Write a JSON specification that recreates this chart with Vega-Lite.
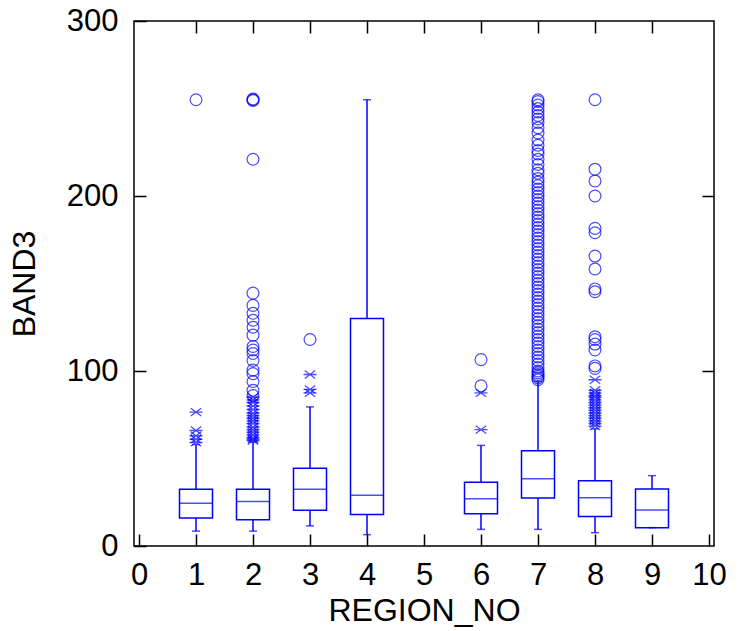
{
  "$schema": "https://vega.github.io/schema/vega-lite/v6.json",
  "width": 580,
  "height": 525,
  "autosize": {"type": "none"},
  "padding": {"left": 134, "top": 21, "right": 25, "bottom": 85},
  "background": "white",
  "config": {
    "view": {"stroke": "black", "strokeWidth": 1.5},
    "font": "Liberation Sans",
    "axis": {
      "domain": false,
      "grid": false,
      "tickColor": "black",
      "tickWidth": 1.5,
      "labelColor": "black",
      "titleColor": "black",
      "labelFont": "Liberation Sans",
      "titleFont": "Liberation Sans",
      "labelFontSize": 31,
      "titleFontSize": 32,
      "titleFontWeight": "normal"
    }
  },
  "datasets": {
    "boxes": [
      {"region": 1, "lo": 8.5, "q1": 16, "med": 24.5, "q3": 32.5, "hi": 58},
      {"region": 2, "lo": 8.5, "q1": 15, "med": 25.5, "q3": 32.5, "hi": 59.5},
      {"region": 3, "lo": 11.5, "q1": 20.5, "med": 32.5, "q3": 44.5, "hi": 79.5},
      {"region": 4, "lo": 6.5, "q1": 18, "med": 29, "q3": 130, "hi": 255},
      {"region": 6, "lo": 9.5, "q1": 18.5, "med": 27, "q3": 36.5, "hi": 57.5},
      {"region": 7, "lo": 9.5, "q1": 27.5, "med": 38.5, "q3": 54.5, "hi": 94},
      {"region": 8, "lo": 7.6, "q1": 16.8, "med": 27.6, "q3": 37.3, "hi": 67},
      {"region": 9, "lo": 10.5, "q1": 10.5, "med": 20.6, "q3": 32.6, "hi": 40.2}
    ],
    "circles": [
      {"region": 1, "value": 255},
      {"region": 2, "value": 255}, {"region": 2, "value": 254.6}, {"region": 2, "value": 255.4},
      {"region": 2, "value": 221}, {"region": 2, "value": 144.5}, {"region": 2, "value": 137.5},
      {"region": 2, "value": 133}, {"region": 2, "value": 129}, {"region": 2, "value": 125},
      {"region": 2, "value": 120.5}, {"region": 2, "value": 114}, {"region": 2, "value": 112},
      {"region": 2, "value": 110}, {"region": 2, "value": 106}, {"region": 2, "value": 100.5},
      {"region": 2, "value": 98.5}, {"region": 2, "value": 94}, {"region": 2, "value": 89},
      {"region": 2, "value": 86},
      {"region": 3, "value": 118},
      {"region": 6, "value": 106.5}, {"region": 6, "value": 91.5},
      {"region": 7, "value": 255}, {"region": 7, "value": 254}, {"region": 7, "value": 252},
      {"region": 7, "value": 250}, {"region": 7, "value": 248}, {"region": 7, "value": 246},
      {"region": 7, "value": 244}, {"region": 7, "value": 242}, {"region": 7, "value": 239},
      {"region": 7, "value": 236}, {"region": 7, "value": 232}, {"region": 7, "value": 229},
      {"region": 7, "value": 226}, {"region": 7, "value": 224}, {"region": 7, "value": 221},
      {"region": 7, "value": 218}, {"region": 7, "value": 215}, {"region": 7, "value": 213},
      {"region": 7, "value": 210}, {"region": 7, "value": 208}, {"region": 7, "value": 206},
      {"region": 7, "value": 204}, {"region": 7, "value": 202}, {"region": 7, "value": 200},
      {"region": 7, "value": 198}, {"region": 7, "value": 196}, {"region": 7, "value": 194},
      {"region": 7, "value": 192}, {"region": 7, "value": 190}, {"region": 7, "value": 188},
      {"region": 7, "value": 186}, {"region": 7, "value": 184}, {"region": 7, "value": 182},
      {"region": 7, "value": 180}, {"region": 7, "value": 178}, {"region": 7, "value": 176},
      {"region": 7, "value": 174}, {"region": 7, "value": 172}, {"region": 7, "value": 170},
      {"region": 7, "value": 168}, {"region": 7, "value": 166}, {"region": 7, "value": 164},
      {"region": 7, "value": 162}, {"region": 7, "value": 160}, {"region": 7, "value": 158},
      {"region": 7, "value": 156}, {"region": 7, "value": 154}, {"region": 7, "value": 152},
      {"region": 7, "value": 150}, {"region": 7, "value": 148}, {"region": 7, "value": 146},
      {"region": 7, "value": 144}, {"region": 7, "value": 142}, {"region": 7, "value": 140},
      {"region": 7, "value": 138}, {"region": 7, "value": 136}, {"region": 7, "value": 134},
      {"region": 7, "value": 132}, {"region": 7, "value": 130}, {"region": 7, "value": 128},
      {"region": 7, "value": 126}, {"region": 7, "value": 124}, {"region": 7, "value": 122},
      {"region": 7, "value": 120}, {"region": 7, "value": 118}, {"region": 7, "value": 116},
      {"region": 7, "value": 114}, {"region": 7, "value": 112}, {"region": 7, "value": 110},
      {"region": 7, "value": 108}, {"region": 7, "value": 106}, {"region": 7, "value": 104},
      {"region": 7, "value": 102}, {"region": 7, "value": 100}, {"region": 7, "value": 99},
      {"region": 7, "value": 98}, {"region": 7, "value": 97}, {"region": 7, "value": 96},
      {"region": 7, "value": 95},
      {"region": 8, "value": 255}, {"region": 8, "value": 215.3}, {"region": 8, "value": 208.6},
      {"region": 8, "value": 200}, {"region": 8, "value": 181.5}, {"region": 8, "value": 179},
      {"region": 8, "value": 165.7}, {"region": 8, "value": 158.3}, {"region": 8, "value": 146.9},
      {"region": 8, "value": 145.3}, {"region": 8, "value": 119.6}, {"region": 8, "value": 118},
      {"region": 8, "value": 115.4}, {"region": 8, "value": 112}, {"region": 8, "value": 102.9},
      {"region": 8, "value": 101.5}
    ],
    "stars": [
      {"region": 1, "value": 76.5}, {"region": 1, "value": 66}, {"region": 1, "value": 63},
      {"region": 1, "value": 61}, {"region": 1, "value": 59.2},
      {"region": 2, "value": 85}, {"region": 2, "value": 83.5}, {"region": 2, "value": 82},
      {"region": 2, "value": 80}, {"region": 2, "value": 78}, {"region": 2, "value": 76},
      {"region": 2, "value": 74.5}, {"region": 2, "value": 73}, {"region": 2, "value": 71.5},
      {"region": 2, "value": 70}, {"region": 2, "value": 68}, {"region": 2, "value": 66.5},
      {"region": 2, "value": 65}, {"region": 2, "value": 63.5}, {"region": 2, "value": 62},
      {"region": 2, "value": 61}, {"region": 2, "value": 60.2},
      {"region": 3, "value": 98}, {"region": 3, "value": 89.5}, {"region": 3, "value": 87.5},
      {"region": 6, "value": 87.5}, {"region": 6, "value": 66.5},
      {"region": 8, "value": 95}, {"region": 8, "value": 89}, {"region": 8, "value": 87.5},
      {"region": 8, "value": 86}, {"region": 8, "value": 85}, {"region": 8, "value": 83.5},
      {"region": 8, "value": 82}, {"region": 8, "value": 80.5}, {"region": 8, "value": 79},
      {"region": 8, "value": 77.5}, {"region": 8, "value": 76}, {"region": 8, "value": 74.5},
      {"region": 8, "value": 73}, {"region": 8, "value": 71.5}, {"region": 8, "value": 70},
      {"region": 8, "value": 68.5}
    ]
  },
  "resolve": {"axis": {"x": "independent", "y": "independent"}},
  "layer": [
    {
      "data": {"name": "boxes"},
      "mark": {"type": "rule", "color": "#0000ff", "strokeWidth": 1.5},
      "encoding": {
        "x": {"field": "region", "type": "quantitative", "scale": {"domain": [0, 10], "nice": false, "zero": false},
          "axis": {"orient": "bottom", "title": "REGION_NO", "values": [0, 1, 2, 3, 4, 5, 6, 7, 8, 9, 10], "tickSize": -12, "labelPadding": 26, "titlePadding": 5, "labelFlush": false}},
        "y": {"field": "lo", "type": "quantitative", "scale": {"domain": [0, 300], "nice": false},
          "axis": {"orient": "left", "title": "BAND3", "values": [0, 100, 200, 300], "tickSize": -12, "labelPadding": 28, "titlePadding": 25, "labelFlush": false}},
        "y2": {"field": "hi"}
      }
    },
    {
      "data": {"name": "boxes"},
      "mark": {"type": "bar", "width": 33, "fill": "white", "stroke": "#0000ff", "strokeWidth": 1.5},
      "encoding": {
        "x": {"field": "region", "type": "quantitative", "axis": null},
        "y": {"field": "q1", "type": "quantitative", "axis": null},
        "y2": {"field": "q3"}
      }
    },
    {
      "data": {"name": "boxes"},
      "mark": {"type": "tick", "orient": "horizontal", "size": 33, "thickness": 1.5, "color": "#0000ff"},
      "encoding": {
        "x": {"field": "region", "type": "quantitative", "axis": null},
        "y": {"field": "med", "type": "quantitative", "axis": null}
      }
    },
    {
      "data": {"name": "boxes"},
      "mark": {"type": "tick", "orient": "horizontal", "size": 8, "thickness": 1.5, "color": "#0000ff"},
      "encoding": {
        "x": {"field": "region", "type": "quantitative",
          "axis": {"orient": "top", "title": null, "labels": false, "values": [1, 2, 3, 4, 5, 6, 7, 8, 9], "tickSize": -12}},
        "y": {"field": "lo", "type": "quantitative",
          "axis": {"orient": "right", "title": null, "labels": false, "values": [100, 200], "tickSize": -12}}
      }
    },
    {
      "data": {"name": "boxes"},
      "mark": {"type": "tick", "orient": "horizontal", "size": 8, "thickness": 1.5, "color": "#0000ff"},
      "encoding": {
        "x": {"field": "region", "type": "quantitative", "axis": null},
        "y": {"field": "hi", "type": "quantitative", "axis": null}
      }
    },
    {
      "data": {"name": "circles"},
      "mark": {"type": "point", "shape": "circle", "filled": false, "size": 140, "color": "#0000ff", "strokeWidth": 1.2},
      "encoding": {
        "x": {"field": "region", "type": "quantitative", "axis": null},
        "y": {"field": "value", "type": "quantitative", "axis": null}
      }
    },
    {
      "data": {"name": "stars"},
      "mark": {"type": "point", "shape": "M-1,0L1,0M-0.8,-0.6L0.8,0.6M-0.8,0.6L0.8,-0.6", "filled": false, "size": 170, "color": "#0000ff", "strokeWidth": 1.3},
      "encoding": {
        "x": {"field": "region", "type": "quantitative", "axis": null},
        "y": {"field": "value", "type": "quantitative", "axis": null}
      }
    }
  ]
}
